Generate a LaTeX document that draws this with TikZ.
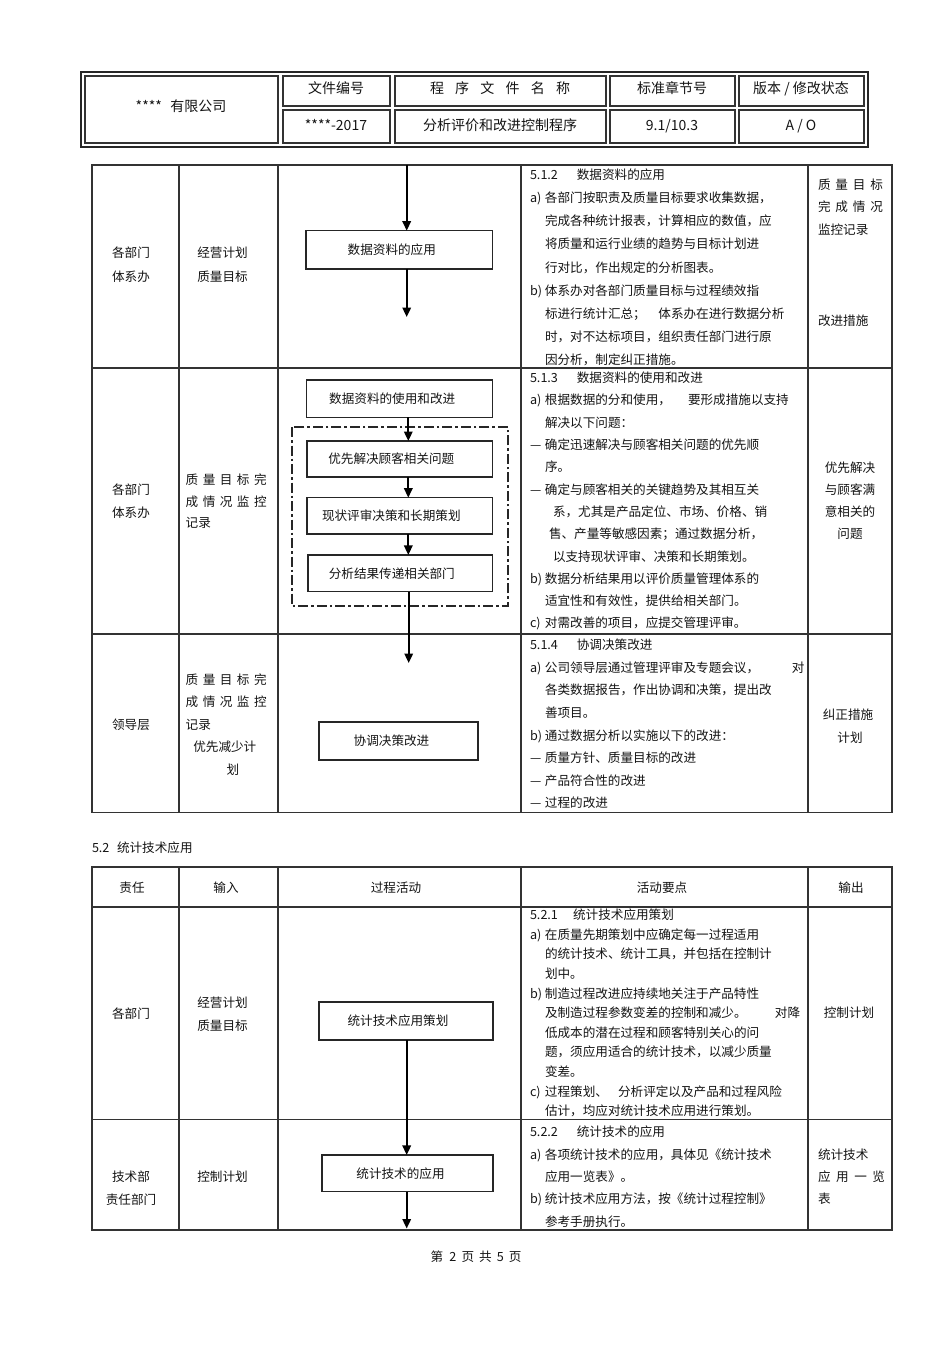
\documentclass[tikz,border=0pt]{standalone}
\usepackage{fontspec}
\setmainfont{Noto Sans CJK SC}
\usetikzlibrary{arrows.meta}
\newcommand\itm[1]{\makebox[15pt][l]{#1}}
\newcommand\spr[2]{\makebox[#1][s]{#2}}
\begin{document}
\begin{tikzpicture}[x=1pt,y=-1pt,
  every node/.style={inner sep=0pt, outer sep=0pt, text=black!92, font=\fontsize{12.6}{15}\selectfont},
  tl/.style={anchor=base west, yshift=-4.6pt},
  tc/.style={anchor=base, yshift=-4.6pt},
  hd/.style={anchor=base, yshift=-5.2pt, font=\fontsize{14}{16}\selectfont},
  grid/.style={draw=black!80, line width=1.2pt},
  pbox/.style={draw=black!85, line width=1.2pt, fill=white},
  arr/.style={draw=black, line width=1.8pt, -{Triangle[width=8.5pt,length=9.5pt]}},
  dashdot/.style={draw=black!85, line width=1.7pt, dash pattern=on 10pt off 3pt on 2.5pt off 3pt},
]
\useasboundingbox[fill=white] (0,0) rectangle (950,1345);

% ---------- header block ----------
\draw[line width=1.9pt, draw=black!85] (81,72) rectangle (868,147);
\draw[grid] (85,76) rectangle (278,143);
\foreach \xa/\xb in {283/390,395/606,610/735,739/864}{
  \draw[grid] (\xa,76) rectangle (\xb,106);
  \draw[grid] (\xa,110) rectangle (\xb,143);
}
\node[hd] (hco) at (181,106) {****\hspace{0.6em}有限公司};
\node[hd] (h1) at (336,88) {文件编号};
\node[hd] (h2) at (500,88) {\spr{140pt}{程\hfill 序\hfill 文\hfill 件\hfill 名\hfill 称}};
\node[hd] (h3) at (672,88) {标准章节号};
\node[hd] (h4) at (801,88) {版本 / 修改状态};
\node[hd] (h5) at (336,125) {****-2017};
\node[hd] (h6) at (500,125) {分析评价和改进控制程序};
\node[hd] (h7) at (672,125) {9.1/10.3};
\node[hd] (h8) at (801,125) {A / O};

% ---------- table 1 grid ----------
\draw[grid] (92,165) rectangle (892,812.5);
\draw[grid] (92,368) -- (892,368);
\draw[grid] (92,634) -- (892,634);
\foreach \xc in {179,278,521,808}{\draw[grid] (\xc,165) -- (\xc,812.5);}

% row 1
\node[tc] (r1a) at (131,253) {各部门};
\node[tc] (r1b) at (131,276.7) {体系办};
\node[tc] (r1c) at (222.5,253) {经营计划};
\node[tc] (r1d) at (222.5,276.7) {质量目标};
\node[tl] (r1o1) at (818,185) {\spr{65pt}{质\hfill 量\hfill 目\hfill 标}};
\node[tl] (r1o2) at (818,207) {\spr{65pt}{完\hfill 成\hfill 情\hfill 况}};
\node[tl] (r1o3) at (818,230) {监控记录};
\node[tl] (r1o4) at (818,321) {改进措施};
\foreach \dx/\t [count=\i from 0] in {
 0/{5.1.2\hspace{1.5em}数据资料的应用},
 0/{\itm{a)}各部门按职责及质量目标要求收集数据，},
 15/{完成各种统计报表，计算相应的数值，应},
 15/{将质量和运行业绩的趋势与目标计划进},
 15/{行对比，作出规定的分析图表。},
 0/{\itm{b)}体系办对各部门质量目标与过程绩效指},
 15/{标进行统计汇总；\hspace{1em}体系办在进行数据分析},
 15/{时，对不达标项目，组织责任部门进行原},
 15/{因分析，制定纠正措施。}}
 {\node[tl] (ta\i) at (530+\dx,175+23.1*\i) {\t};}

% row 2
\node[tc] (r2a) at (131,490) {各部门};
\node[tc] (r2b) at (131,513) {体系办};
\node[tl] (r2c) at (185.7,480) {\spr{81pt}{质\hfill 量\hfill 目\hfill 标\hfill 完}};
\node[tl] (r2d) at (185.7,501.5) {\spr{81pt}{成\hfill 情\hfill 况\hfill 监\hfill 控}};
\node[tl] (r2e) at (185.7,523) {记录};
\node[tc] (r2o1) at (850,468) {优先解决};
\node[tc] (r2o2) at (850,490) {与顾客满};
\node[tc] (r2o3) at (850,512) {意相关的};
\node[tc] (r2o4) at (850,533.5) {问题};
\foreach \dx/\t [count=\i from 0] in {
 0/{5.1.3\hspace{1.5em}数据资料的使用和改进},
 0/{\itm{a)}根据数据的分和使用，\hspace{1.35em}要形成措施以支持},
 15/{解决以下问题：},
 0/{\itm{—}确定迅速解决与顾客相关问题的优先顺},
 15/{序。},
 0/{\itm{—}确定与顾客相关的关键趋势及其相互关},
 23/{系，尤其是产品定位、市场、价格、销},
 19/{售、产量等敏感因素；通过数据分析，},
 23/{以支持现状评审、决策和长期策划。},
 0/{\itm{b)}数据分析结果用以评价质量管理体系的},
 15/{适宜性和有效性，提供给相关部门。},
 0/{\itm{c)}对需改善的项目，应提交管理评审。}}
 {\node[tl] (tb\i) at (530+\dx,378+22.3*\i) {\t};}

% row 3
\node[tc] (r3a) at (131,725) {领导层};
\node[tl] (r3c) at (185.7,680) {\spr{81pt}{质\hfill 量\hfill 目\hfill 标\hfill 完}};
\node[tl] (r3d) at (185.7,702) {\spr{81pt}{成\hfill 情\hfill 况\hfill 监\hfill 控}};
\node[tl] (r3e) at (185.7,724.5) {记录};
\node[tl] (r3f) at (193.3,747) {优先减少计};
\node[tl] (r3g) at (226.7,770) {划};
\node[tc] (r3o1) at (848,715) {纠正措施};
\node[tc] (r3o2) at (850,738) {计划};
\foreach \dx/\t [count=\i from 0] in {
 0/{5.1.4\hspace{1.5em}协调决策改进},
 0/{\itm{a)}公司领导层通过管理评审及专题会议，\hspace{2.6em}对},
 15/{各类数据报告，作出协调和决策，提出改},
 15/{善项目。},
 0/{\itm{b)}通过数据分析以实施以下的改进：},
 0/{\itm{—}质量方针、质量目标的改进},
 0/{\itm{—}产品符合性的改进},
 0/{\itm{—}过程的改进}}
 {\node[tl] (tc\i) at (530+\dx,645+22.6*\i) {\t};}

% process column, table 1
\node[pbox, minimum width=186.7pt, minimum height=38.3pt] (b1) at (399.3,249.8) {数据资料的应用\hspace*{15pt}};
\node[pbox, minimum width=186pt, minimum height=37.3pt] (b2) at (399.7,398.7) {数据资料的使用和改进\hspace*{15pt}};
\draw[dashdot] (292,427) rectangle (508,605.7);
\node[pbox, minimum width=185.7pt, minimum height=36pt] (b3) at (399.8,459) {优先解决顾客相关问题\hspace*{17pt}};
\node[pbox, minimum width=185.7pt, minimum height=36.3pt] (b4) at (399.8,515.8) {现状评审决策和长期策划\hspace*{17pt}};
\node[pbox, minimum width=184.7pt, minimum height=36.7pt] (b5) at (400.3,573.3) {分析结果传递相关部门\hspace*{17pt}};
\node[pbox, line width=1.6pt, minimum width=159pt, minimum height=38pt] (b6) at (398.5,741) {协调决策改进\hspace*{14pt}};

\coordinate (a1top) at (406.7,165);
\coordinate (a1end) at (406.7,317);
\draw[arr] (a1top) -- (a1top |- b1.north);
\draw[arr] (b1.south -| a1top) -- (a1end);
\coordinate (ax2) at (408.3,420);
\draw[arr] (b2.south -| ax2) -- (b3.north -| ax2);
\draw[arr] (b3.south -| ax2) -- (b4.north -| ax2);
\draw[arr] (b4.south -| ax2) -- (b5.north -| ax2);
\coordinate (a2end) at (408.7,663);
\draw[arr] (b5.south -| a2end) -- (a2end);

% ---------- section 5.2 ----------
\node[tl] (s52) at (92,848) {5.2\hspace{0.6em}统计技术应用};

\draw[grid] (92,867) rectangle (892,1230);
\draw[grid] (92,907) -- (892,907);
\draw[grid] (92,1119.5) -- (892,1119.5);
\foreach \xc in {179,278,521,808}{\draw[grid] (\xc,867) -- (\xc,1230);}

\node[tc] (th1) at (132,887.5) {责任};
\node[tc] (th2) at (226,887.5) {输入};
\node[tc] (th3) at (396,887.5) {过程活动};
\node[tc] (th4) at (662,887.5) {活动要点};
\node[tc] (th5) at (851,887.5) {输出};

% row A
\node[tc] (rAa) at (131,1014) {各部门};
\node[tc] (rAc) at (222.5,1002.7) {经营计划};
\node[tc] (rAd) at (222.5,1025.5) {质量目标};
\node[tc] (rAo) at (849,1013) {控制计划};
\foreach \dx/\t [count=\i from 0] in {
 0/{5.2.1\hspace{1.2em}统计技术应用策划},
 0/{\itm{a)}在质量先期策划中应确定每一过程适用},
 15/{的统计技术、统计工具，并包括在控制计},
 15/{划中。},
 0/{\itm{b)}制造过程改进应持续地关注于产品特性},
 15/{及制造过程参数变差的控制和减少。\hspace{2.25em}对降},
 15/{低成本的潜在过程和顾客特别关心的问},
 15/{题，须应用适合的统计技术，以减少质量},
 15/{变差。},
 0/{\itm{c)}过程策划、\hspace{0.8em}分析评定以及产品和过程风险},
 15/{估计，均应对统计技术应用进行策划。}}
 {\node[tl] (td\i) at (530+\dx,915+19.6*\i) {\t};}

% row B
\node[tc] (rBa) at (131,1177) {技术部};
\node[tc] (rBb) at (131,1199.5) {责任部门};
\node[tc] (rBc) at (222.5,1177) {控制计划};
\node[tl] (rBo1) at (818,1155) {统计技术};
\node[tl] (rBo2) at (818,1177) {\spr{67pt}{应\hfill 用\hfill 一\hfill 览}};
\node[tl] (rBo3) at (818,1199) {表};
\foreach \dx/\t [count=\i from 0] in {
 0/{5.2.2\hspace{1.5em}统计技术的应用},
 0/{\itm{a)}各项统计技术的应用，具体见《统计技术},
 15/{应用一览表》。},
 0/{\itm{b)}统计技术应用方法，按《统计过程控制》},
 15/{参考手册执行。}}
 {\node[tl] (te\i) at (530+\dx,1132+22.4*\i) {\t};}

\node[pbox, line width=1.6pt, minimum width=174pt, minimum height=38pt] (b7) at (406,1021) {统计技术应用策划\hspace*{16pt}};
\node[pbox, minimum width=171pt, minimum height=36.7pt] (b8) at (407.5,1173.3) {统计技术的应用\hspace*{14pt}};
\coordinate (ax7) at (406.7,1100);
\draw[arr] (b7.south -| ax7) -- (b8.north -| ax7);
\coordinate (a8end) at (406.7,1228.5);
\draw[arr] (b8.south -| a8end) -- (a8end);

% footer
\node[tc] (foot) at (476,1257) {第\hspace{0.5em}2\hspace{0.4em}页\hspace{0.4em}共\hspace{0.4em}5\hspace{0.4em}页};
\end{tikzpicture}
\end{document}
